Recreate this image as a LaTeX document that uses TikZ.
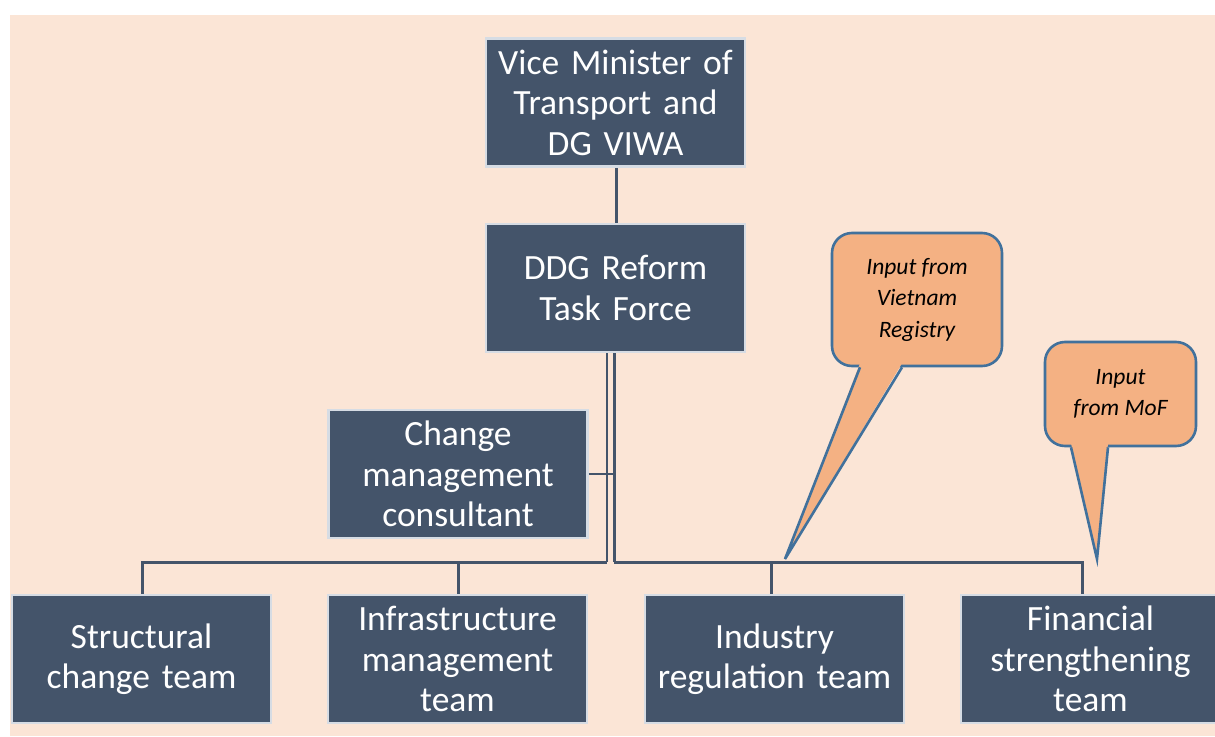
\documentclass[tikz,border=0pt]{standalone}
\usepackage{fontspec}
\setmainfont{Carlito}
\definecolor{bg}{HTML}{FBE5D6}
\definecolor{boxfill}{HTML}{44546A}
\definecolor{boxline}{HTML}{D6DCE4}
\definecolor{callfill}{HTML}{F4B183}
\definecolor{callline}{HTML}{41719C}
\definecolor{conn}{HTML}{44546A}
\tikzset{
  orgbox/.style={draw=boxline, line width=2.5pt, fill=boxfill, text=white,
    minimum width=259pt, minimum height=128pt, inner sep=0pt,
    text width=252pt, align=center,
    font=\fontsize{35.5}{40.5}\selectfont},
  callbox/.style={draw=callline, line width=2.6pt, fill=callfill, rounded corners=20pt,
    inner sep=0pt, align=center, font=\fontsize{23.5}{31.5}\selectfont\itshape},
  link/.style={draw=conn, line width=3pt},
  thinlink/.style={draw=conn, line width=2.5pt},
  ptr/.style={draw=callline, line width=2.6pt, line join=miter}
}
\begin{document}
\begin{tikzpicture}[x=1pt, y=-1pt]
\useasboundingbox (0,0) rectangle (1215,736);
\clip (0,0) rectangle (1215,736);
\fill[white] (0,0) rectangle (1215,736);
\fill[bg] (10,15) rectangle (1215,736);

% boxes
\node[orgbox] (vm) at (615.5,102.5) {\raisebox{-3pt}{\parbox{252pt}{\centering Vice Minister of\\Transport and\\DG VIWA}}};
\node[orgbox] (ddg) at (615.5,288) {DDG Reform\\Task Force};
\node[orgbox] (cm) at (458,474) {Change\\management\\consultant};
\node[orgbox] (sc) at (141.5,659) {Structural\\change team};
\node[orgbox] (im) at (457.5,659) {Infrastructure\\management\\team};
\node[orgbox] (ir) at (774.5,659) {Industry\\regulation team};
\node[orgbox] (fs) at (1090.5,659) {Financial\\strengthening\\team};

% connectors
\coordinate (busL) at (607,562);
\coordinate (busR) at (614,562);
\draw[link] (vm.south -| 616,0) -- (ddg.north -| 616,0);
\draw[thinlink] (ddg.south -| busL) -- (busL);
\draw[link] (ddg.south -| busR) -- (busR);
\draw[thinlink] (cm.east) -- (cm.east -| busR);
\draw[link] (sc.north -| 142,0) -- (142,562) -- (busL);
\draw[link] (im.north -| 458,0) -- (458,562);
\draw[link] (busR) -- (1082,562) -- (fs.north -| 1082,0);
\draw[link] (ir.north -| 771,0) -- (771,562);

% callouts
\coordinate (tip1) at (785,559);
\coordinate (tip2) at (1097,559);
\node[callbox, minimum width=170pt, minimum height=133pt] (vr) at (917,299.5) {Input from\\Vietnam\\Registry};
\node[callbox, minimum width=151pt, minimum height=104pt] (mof) at (1120.5,394) {Input\\from MoF};
\coordinate (vrA) at (vr.south -| 860,0);
\coordinate (vrB) at (vr.south -| 902,0);
\coordinate (mofA) at (mof.south -| 1071,0);
\coordinate (mofB) at (mof.south -| 1108,0);
\fill[callfill] ([yshift=4pt]vrA) -- (tip1) -- ([yshift=4pt]vrB) -- cycle;
\draw[ptr] (vrA) -- (tip1) -- (vrB);
\fill[callfill] ([yshift=4pt]mofA) -- (tip2) -- ([yshift=4pt]mofB) -- cycle;
\draw[ptr] (mofA) -- (tip2) -- (mofB);
\end{tikzpicture}
\end{document}
